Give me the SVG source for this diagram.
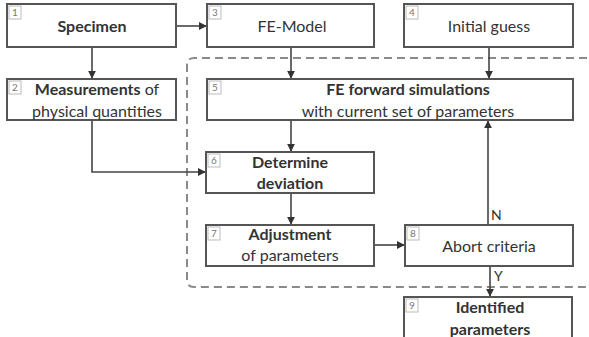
<svg xmlns="http://www.w3.org/2000/svg" width="589" height="337" viewBox="0 0 589 337">
  <defs>
    <marker id="arr" viewBox="0 0 10 10" refX="9" refY="5" markerWidth="5" markerHeight="5" orient="auto">
      <path d="M0,0 L10,5 L0,10 z" fill="#333"/>
    </marker>
    <style>
      .box{fill:#fff;stroke:#555;stroke-width:2}
      .num{fill:#fff;stroke:#bbb;stroke-width:1}
      .numt{font-family:Lato,"Liberation Sans",sans-serif;font-size:10px;fill:#777}
      .t{font-family:Lato,"Liberation Sans",sans-serif;font-size:16px;fill:#333;text-anchor:middle}
      .b{font-weight:bold}
      .c{fill:none;stroke:#444;stroke-width:1.6}
      .loop{fill:none;stroke:#8a8a8a;stroke-width:2;stroke-dasharray:8 5}
      .lbl{font-family:Lato,"Liberation Sans",sans-serif;font-size:14px;fill:#333}
    </style>
  </defs>

  <rect width="589" height="337" fill="#fff"/>

  <!-- iteration loop boundary -->
  <path class="loop" d="M600,58 H194 Q187,58 187,65 V280 Q187,287 194,287 H600"/>

  <!-- connectors -->
  <g id="connectors">
    <path class="c" d="M176,26 H206" stroke-width="3" marker-end="url(#arr)"/>
    <path class="c" d="M92,47 V78" marker-end="url(#arr)"/>
    <path class="c" d="M92,120 V172 H205" marker-end="url(#arr)"/>
    <path class="c" d="M291,47 V78" marker-end="url(#arr)"/>
    <path class="c" d="M489,47 V78" marker-end="url(#arr)"/>
    <path class="c" d="M291,120 V151" marker-end="url(#arr)"/>
    <path class="c" d="M291,193 V224" marker-end="url(#arr)"/>
    <path class="c" d="M374,245 H404" marker-end="url(#arr)"/>
    <path class="c" d="M488,225 V121" marker-end="url(#arr)"/>
    <path class="c" d="M490,266 V296" marker-end="url(#arr)"/>
    <text class="lbl" x="491" y="220">N</text>
    <text class="lbl" x="494" y="281">Y</text>
  </g>

  <g id="n1">
    <rect class="box" x="7" y="4" width="169" height="43"/>
    <rect class="num" x="9" y="6" width="12" height="13"/>
    <text class="numt" x="12" y="16">1</text>
    <text class="t b" x="92" y="32">Specimen</text>
  </g>

  <g id="n2">
    <rect class="box" x="7" y="79" width="169" height="41"/>
    <rect class="num" x="9" y="81" width="12" height="13"/>
    <text class="numt" x="12" y="91">2</text>
    <text class="t" x="97" y="95"><tspan class="b">Measurements</tspan> of</text>
    <text class="t" x="97" y="117">physical quantities</text>
  </g>

  <g id="n3">
    <rect class="box" x="207" y="4" width="167" height="43"/>
    <rect class="num" x="209" y="6" width="12" height="13"/>
    <text class="numt" x="212" y="16">3</text>
    <text class="t" x="292" y="32">FE-Model</text>
  </g>

  <g id="n4">
    <rect class="box" x="404" y="4" width="169" height="43"/>
    <rect class="num" x="406" y="6" width="12" height="13"/>
    <text class="numt" x="409" y="16">4</text>
    <text class="t" x="489" y="32">Initial guess</text>
  </g>

  <g id="n5">
    <rect class="box" x="207" y="79" width="366" height="41"/>
    <rect class="num" x="209" y="81" width="12" height="13"/>
    <text class="numt" x="212" y="91">5</text>
    <text class="t b" x="408" y="95">FE forward simulations</text>
    <text class="t" x="408" y="117">with current set of parameters</text>
  </g>

  <g id="n6">
    <rect class="box" x="206" y="152" width="168" height="41"/>
    <rect class="num" x="208" y="154" width="12" height="13"/>
    <text class="numt" x="211" y="164">6</text>
    <text class="t b" x="290" y="168">Determine</text>
    <text class="t b" x="290" y="189">deviation</text>
  </g>

  <g id="n7">
    <rect class="box" x="206" y="225" width="168" height="41"/>
    <rect class="num" x="208" y="227" width="12" height="13"/>
    <text class="numt" x="211" y="237">7</text>
    <text class="t b" x="290" y="240">Adjustment</text>
    <text class="t" x="290" y="261">of parameters</text>
  </g>

  <g id="n8">
    <rect class="box" x="405" y="225" width="168" height="41"/>
    <rect class="num" x="407" y="227" width="12" height="13"/>
    <text class="numt" x="410" y="237">8</text>
    <text class="t" x="489" y="252">Abort criteria</text>
  </g>

  <g id="n9">
    <rect class="box" x="404" y="297" width="168" height="50"/>
    <rect class="num" x="406" y="299" width="12" height="13"/>
    <text class="numt" x="409" y="309">9</text>
    <text class="t b" x="490" y="313">Identified</text>
    <text class="t b" x="490" y="335">parameters</text>
  </g>
</svg>
